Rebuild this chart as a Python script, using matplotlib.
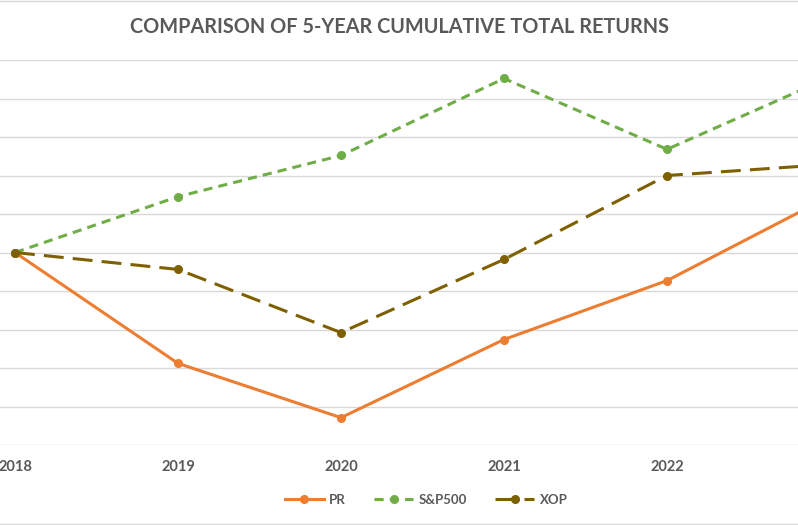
import matplotlib
matplotlib.use("Agg")
import matplotlib.pyplot as plt
from matplotlib.lines import Line2D

years = [2018, 2019, 2020, 2021, 2022, 2023]
tick_labels = ["2018", "2019", "2020", "2021", "2022", "2023"]
pr = [100, 71.2, 57.1, 77.4, 92.7, 114.6]
sp500 = [100, 114.5, 125.2, 145.2, 126.8, 145.5]
xop = [100, 95.6, 79.2, 98.2, 120.0, 122.9]
y_ticks = [50, 60, 70, 80, 90, 100, 110, 120, 130, 140, 150]

W, H = 798, 525
fig = plt.figure(figsize=(W / 100, H / 100), dpi=100)
fig.patch.set_facecolor("white")

# axes spans full width (chart is cropped in reference)
ax = fig.add_axes([0, 1 - 445 / H, 1, (445 - 60) / H])
ax.set_yticks(y_ticks)
ax.set_yticklabels([])
ax.tick_params(axis="y", length=0)
ax.yaxis.grid(True, color="#d9d9d9", linewidth=1.0)
ax.set_axisbelow(True)
for s in ax.spines.values():
    s.set_visible(False)
ax.set_xticks(years)
ax.set_xticklabels(tick_labels, fontsize=10.5, fontweight="bold", color="#595959", family="Lato")
ax.tick_params(axis="x", length=0, pad=11)

lw = 2.2
ax.plot(years, pr, color="#ED7D31", lw=lw, marker="o", ms=5.5, solid_capstyle="round", label="PR")
ax.plot(years, sp500, color="#70AD47", lw=lw, marker="o", ms=5.5, dashes=(3, 2), label="S&P500")
ax.plot(years, xop, color="#7F6000", lw=lw, marker="o", ms=5.5, dashes=(6.5, 3), label="XOP")

px_per_year = 163.0
ax.set_xlim(2018 - 15 / px_per_year, 2022 + 131 / px_per_year)
ax.set_ylim(50, 150)

fig.text(0.5, 1 - 27 / H, "COMPARISON OF 5-YEAR CUMULATIVE TOTAL RETURNS", ha="center", va="center",
         fontsize=14.3, fontweight="bold", color="#595959", family="Lato")

handles = [
    Line2D([], [], color="#ED7D31", lw=lw, marker="o", ms=5.5),
    Line2D([], [], color="#70AD47", lw=lw, marker="o", ms=5.5, dashes=(3, 2)),
    Line2D([], [], color="#7F6000", lw=lw, marker="o", ms=5.5, dashes=(6.5, 3)),
]
leg = fig.legend(handles, ["PR", "S&P500", "XOP"], loc="center", bbox_to_anchor=(426 / W, 1 - 500 / H),
                 ncol=3, frameon=False, handlelength=3.0, columnspacing=2.1, handletextpad=0.4,
                 prop={"family": "Lato", "weight": "bold", "size": 9.5})
for t in leg.get_texts():
    t.set_color("#595959")

# chart border lines
fig.add_artist(Line2D([0, 1], [1 - 1 / H, 1 - 1 / H], color="#d9d9d9", lw=1.0, transform=fig.transFigure))
fig.add_artist(Line2D([0, 1], [1 / H, 1 / H], color="#d9d9d9", lw=1.0, transform=fig.transFigure))

fig.savefig("out.png", dpi=100, facecolor="white")
